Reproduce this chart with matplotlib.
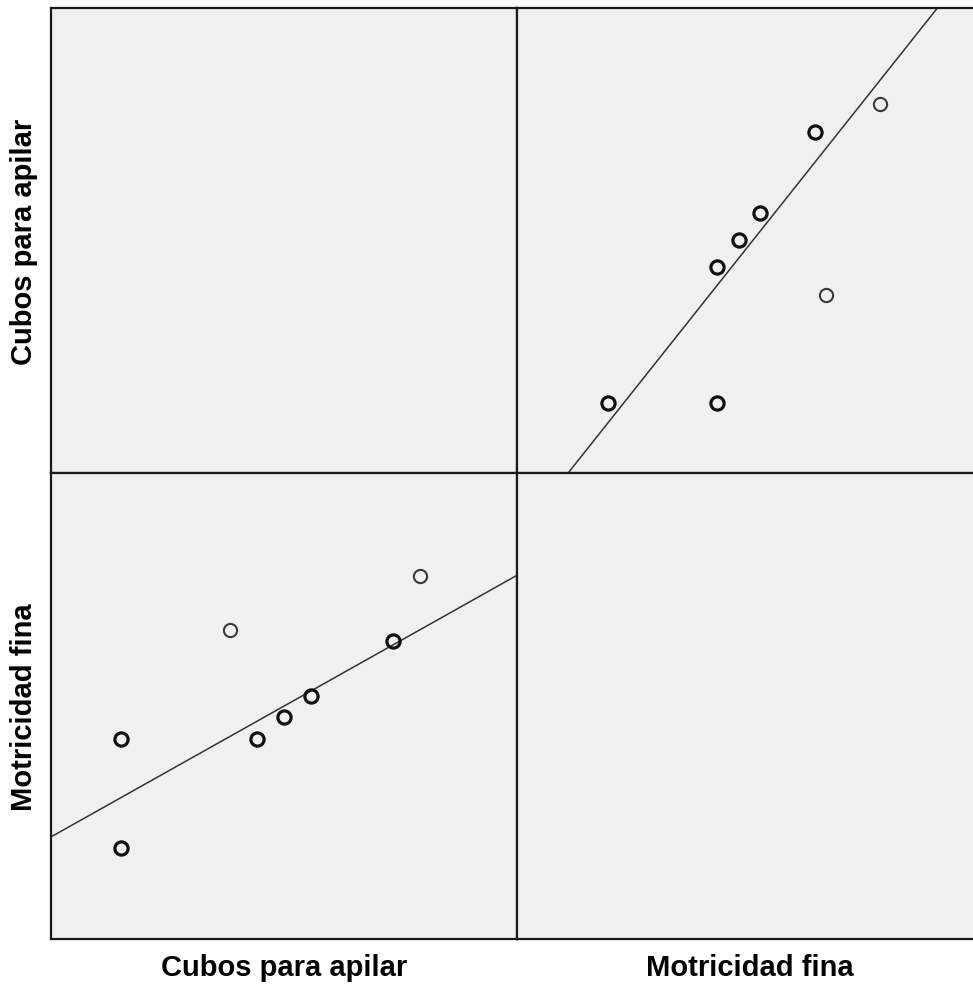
import matplotlib
matplotlib.use("Agg")
import matplotlib.pyplot as plt
import numpy as np

plt.rcParams['font.family'] = ['Liberation Sans', 'DejaVu Sans']

# ---- data ----
variables = ["Cubos para apilar", "Motricidad fina"]
cubos = [3, 3, 7, 8, 9, 10, 13, 14]
motricidad = [50, 30, 70, 50, 54, 58, 68, 80]
overlap = [2, 2, 1, 2, 3, 2, 2, 1]          # overlapping cases (drawn darker)
fit_mot_on_cubos = [30.83, 2.809]            # intercept, slope
fit_cubos_on_mot = [-5.287, 0.2522]          # intercept, slope
cubos_range = [0.43, 17.55]
mot_range = [13.27, 98.93]

W, H = 973, 987
fig = plt.figure(figsize=(W / 100, H / 100), dpi=100)
fig.patch.set_facecolor("white")

L, M, R = 51, 517, 983
T, C, B = 9, 474, 940

def ax_at(x0, y0, x1, y1):
    return fig.add_axes([x0 / W, 1 - y1 / H, (x1 - x0) / W, (y1 - y0) / H])

axes = {
    (0, 0): ax_at(L, T, M, C),
    (0, 1): ax_at(M, T, R, C),
    (1, 0): ax_at(L, C, M, B),
    (1, 1): ax_at(M, C, R, B),
}
ranges = [cubos_range, mot_range]
data = [np.array(cubos, float), np.array(motricidad, float)]
fits = {(1, 0): fit_mot_on_cubos, (0, 1): fit_cubos_on_mot}

for (r, c), ax in axes.items():
    ax.set_facecolor("#f0f0f0")
    ax.set_xlim(*ranges[c])
    ax.set_ylim(*ranges[r])
    ax.set_xticks([])
    ax.set_yticks([])
    for s in ax.spines.values():
        s.set_color("#1a1a1a")
        s.set_linewidth(1.6)
    if r != c:
        x, y = data[c], data[r]
        b0, b1 = fits[(r, c)]
        xx = np.array(ranges[c])
        ax.plot(xx, b0 + b1 * xx, color="#333333", lw=1.1, zorder=2)
        for xi, yi, n in zip(x, y, overlap):
            ax.plot(xi, yi, 'o', ms=9.5, mfc='none',
                    mec="#111111" if n > 1 else "#3a3a3a",
                    mew=2.3 if n > 1 else 1.5, zorder=3)

fs = 21
fig.text((L + M) / 2 / W, 1 - 968 / H, variables[0], ha='center', va='center',
         fontsize=fs, fontweight='bold')
fig.text((M + R) / 2 / W, 1 - 968 / H, variables[1], ha='center', va='center',
         fontsize=fs, fontweight='bold')
fig.text(24 / W, 1 - (T + C) / 2 / H, variables[0], ha='center', va='center',
         rotation=90, fontsize=fs, fontweight='bold')
fig.text(24 / W, 1 - (C + B) / 2 / H, variables[1], ha='center', va='center',
         rotation=90, fontsize=fs, fontweight='bold')

fig.savefig("out.png", dpi=100, facecolor="white")
